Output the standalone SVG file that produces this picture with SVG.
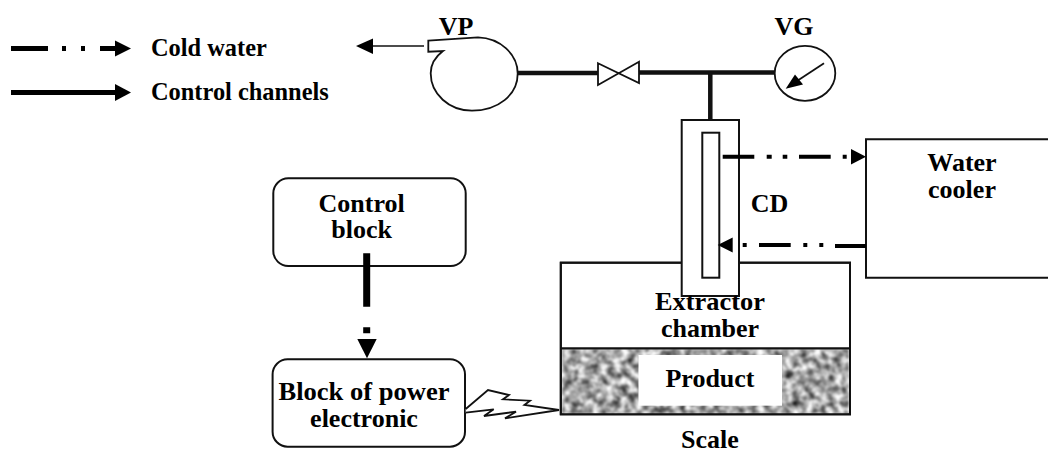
<svg xmlns="http://www.w3.org/2000/svg" width="1048" height="453" viewBox="0 0 1048 453">
<style>
text{font-family:"Liberation Serif","Times New Roman",serif;font-weight:bold;font-size:26px;fill:#000;text-anchor:middle}
.lg{font-size:24.4px;text-anchor:start}
.box{fill:#fff;stroke:#111;stroke-width:2}
.thin{fill:#fff;stroke:#111;stroke-width:1.8}
.pipe{fill:none;stroke:#111;stroke-width:4.5}
.dash{fill:none;stroke:#000;stroke-width:4}
.head{fill:#000;stroke:none}
</style>
<defs>
<filter id="grain" x="0" y="0" width="100%" height="100%" color-interpolation-filters="sRGB">
<feTurbulence type="fractalNoise" baseFrequency="0.14" numOctaves="3" seed="7"/>
<feColorMatrix type="matrix" values="1.5 0 0 0 -0.1 1.5 0 0 0 -0.1 1.5 0 0 0 -0.1 0 0 0 0 1"/>
<feGaussianBlur stdDeviation="0.9"/>
</filter>
</defs>
<rect width="1048" height="453" fill="#fff"/>

<g id="legend">
<text class="lg" x="151" y="56">Cold water</text>
<text class="lg" x="151" y="100">Control channels</text>
</g>

<g id="vp">
<path class="thin" style="fill:none" d="M428.3 40.7L478 37.3C500 38 517.7 54 517.7 73.5C517.7 95 498 110.7 472 110.7C449 110.7 430.7 94 430.7 73.3C430.7 64 435 57 443 51L428.3 51.7Z"/>
<text x="456" y="35">VP</text>
</g>

<g id="valve">
<path class="thin" d="M598 63.3L639 83V61.7L598 85Z"/>
</g>

<g id="vg">
<ellipse class="thin" cx="805" cy="73.3" rx="30.3" ry="27.5"/>
<path d="M824 63.3L797 81" fill="none" stroke="#111" stroke-width="1.8"/>
<path class="head" d="M785.7 88.7L795 74.5L803 84.5Z"/>
<text x="794" y="35">VG</text>
</g>

<g id="extractor-chamber">
<rect class="box" x="560.8" y="262.7" width="289.2" height="151.6"/>
<rect x="562" y="349" width="287" height="64.5" filter="url(#grain)"/>
<rect x="638.5" y="355" width="143.5" height="50.7" fill="#fff"/>
<path d="M560.8 348.3H850" stroke="#111" stroke-width="2.2"/>
<rect x="560.8" y="262.7" width="289.2" height="151.6" fill="none" stroke="#111" stroke-width="2"/>
</g>

<g id="cd">
<rect class="box" x="681.7" y="120" width="57.3" height="176"/>
<rect class="box" x="702.3" y="132.7" width="17" height="145"/>
<text x="769.5" y="211.7">CD</text>
</g>

<g id="extractor-label">
<text x="710" y="310" textLength="110" lengthAdjust="spacingAndGlyphs">Extractor</text>
<text x="710" y="336.9">chamber</text>
<text x="710" y="387">Product</text>
<text x="710" y="447.5">Scale</text>
</g>

<g id="water-cooler">
<path class="box" d="M1050 139.3H866V277.7H1050"/>
<text x="962" y="171">Water</text>
<text x="962" y="198">cooler</text>
</g>

<g id="control-block">
<rect class="box" x="273.3" y="178.3" width="192.4" height="87.7" rx="15"/>
<text x="361.7" y="211.5">Control</text>
<text x="361.7" y="238.4">block</text>
</g>

<g id="power-block">
<rect class="box" x="272.6" y="359.3" width="192.4" height="87.4" rx="15"/>
<text x="364" y="399.5" textLength="171" lengthAdjust="spacingAndGlyphs">Block of power</text>
<text x="364" y="427">electronic</text>
</g>

<g id="connectors">
<path class="dash" d="M11 48.5H48M62 48.5H66M81 48.5H85M100 48.5H116" style="stroke-width:5"/>
<path class="head" d="M115 40.5L131 48.5L115 56.5Z"/>
<path class="dash" d="M11 92.5H116" style="stroke-width:5"/>
<path class="head" d="M115 84L131 92.5L115 101Z"/>
<path d="M372 46H424" fill="none" stroke="#111" stroke-width="1.6"/>
<path class="head" d="M356 46L373 38.5V54Z"/>
<path class="pipe" d="M517 73H598M639 72.5H775M710.3 73V120"/>
<path class="dash" d="M722.7 156.7H754.3M766.7 156.7H771.7M782.7 156.7H787.3M799 156.7H830.7M842.7 156.7H846.7"/>
<path class="head" d="M851 149L866 156.7L851 164.5Z"/>
<path class="dash" d="M742.7 245H746.7M759 245H790.7M803.3 245H807.3M819.3 245H823.3M835 246H866"/>
<path class="head" d="M717.7 245L732.7 237.5V252.5Z"/>
<path d="M366.7 253.3V306.7M366.7 327.3V333.3" fill="none" stroke="#000" stroke-width="7"/>
<path class="head" d="M357.3 339H376.7L367 358.3Z"/>
<path d="M465.7 409L488 390L509 395L503 399.3L530 400.7L524.4 405L559 410L505 418.3L516 411.7L484 416L493.7 409.3L465.7 412.7" fill="#fff" stroke="#111" stroke-width="1.8"/>
</g>
</svg>
